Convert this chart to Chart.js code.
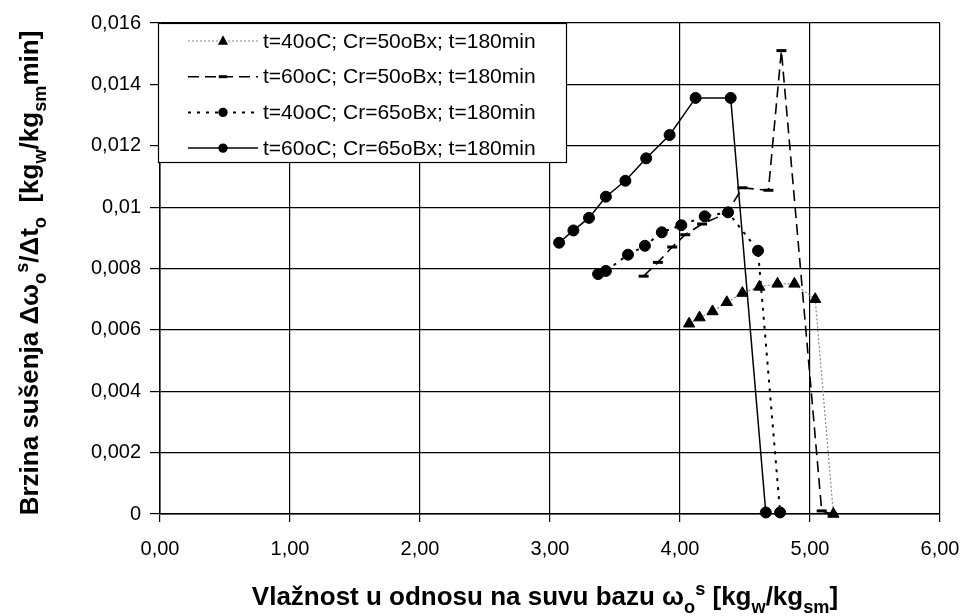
<!DOCTYPE html>
<html>
<head>
<meta charset="utf-8">
<script src="https://cdn.jsdelivr.net/npm/chart.js@4.4.1/dist/chart.umd.min.js"></script>
<style>
  html, body { margin: 0; padding: 0; background: #fff; }
  #wrap { width: 967px; height: 616px; position: relative; }
</style>
</head>
<body>
<div id="wrap"><canvas id="chart" width="967" height="616"></canvas></div>
<script>
// series data
const seriesNames = [
    't=40oC; Cr=50oBx; t=180min',
    't=60oC; Cr=50oBx; t=180min',
    't=40oC; Cr=65oBx; t=180min',
    't=60oC; Cr=65oBx; t=180min'
];

const x1 = [4.07, 4.15, 4.25, 4.36, 4.48, 4.61, 4.75, 4.88, 5.04, 5.18];
const y1 = [0.0062, 0.0064, 0.0066, 0.0069, 0.0072, 0.0074, 0.0075, 0.0075, 0.0070, 0.0];

const x2 = [3.72, 3.83, 3.94, 4.04, 4.17, 4.36, 4.48, 4.68, 4.78, 5.09, 5.17];
const y2 = [0.00775, 0.0082, 0.0087, 0.0091, 0.00945, 0.0098, 0.01063, 0.01055, 0.0151, 0.0001, 0.0];

const x3 = [3.37, 3.43, 3.60, 3.73, 3.86, 4.01, 4.19, 4.37, 4.60, 4.77];
const y3 = [0.00782, 0.00792, 0.00845, 0.00874, 0.00918, 0.00941, 0.0097, 0.00983, 0.00858, 0.00005];

const x4 = [3.07, 3.18, 3.30, 3.43, 3.58, 3.74, 3.92, 4.12, 4.39, 4.66];
const y4 = [0.00884, 0.00924, 0.00965, 0.01034, 0.01086, 0.01159, 0.01235, 0.01356, 0.01356, 0.00005];

const xTicks = ['0,00', '1,00', '2,00', '3,00', '4,00', '5,00', '6,00'];
const yTicks = ['0', '0,002', '0,004', '0,006', '0,008', '0,01', '0,012', '0,014', '0,016'];

const FONT = 'Arial, "Liberation Sans", sans-serif';

const toPoints = (xs, ys) => xs.map((x, i) => ({ x: x, y: ys[i] }));

// line styles, also used for the legend samples
const styles = [
    { color: '#8c8c8c', width: 1.2, dash: [2, 2], marker: 'triangle', r: 6 },
    { color: '#000', width: 1.6, dash: [11, 6], marker: 'dash', r: 5 },
    { color: '#000', width: 2, dash: [3, 6], marker: 'circle', r: 5.5 },
    { color: '#000', width: 1.5, dash: [], marker: 'circle', r: 5.5 }
];

function drawMarker(ctx, type, x, y, r) {
    ctx.save();
    ctx.setLineDash([]);
    ctx.fillStyle = '#000';
    ctx.strokeStyle = '#000';
    ctx.beginPath();
    if (type === 'triangle') {
        ctx.moveTo(x, y - r * 1.15);
        ctx.lineTo(x + r, y + r * 0.75);
        ctx.lineTo(x - r, y + r * 0.75);
        ctx.closePath();
        ctx.fill();
    } else if (type === 'circle') {
        ctx.arc(x, y, r, 0, Math.PI * 2);
        ctx.fill();
    } else {
        ctx.lineWidth = 3;
        ctx.moveTo(x - r, y);
        ctx.lineTo(x + r, y);
        ctx.stroke();
    }
    ctx.restore();
}

// text with sub/superscript runs
function richWidth(ctx, parts, size) {
    let w = 0;
    parts.forEach(p => {
        const s = p.k ? size * 0.7 : size;
        ctx.font = 'bold ' + s + 'px ' + FONT;
        w += ctx.measureText(p.t).width;
    });
    return w;
}
function drawRich(ctx, parts, x, y, size) {
    parts.forEach(p => {
        const s = p.k ? size * 0.7 : size;
        ctx.font = 'bold ' + s + 'px ' + FONT;
        let dy = 0;
        if (p.k === 'sub') dy = size * 0.3;
        if (p.k === 'sup') dy = -size * 0.4;
        ctx.fillText(p.t, x, y + dy);
        x += ctx.measureText(p.t).width;
    });
}

const xTitle = [
    { t: 'Vlažnost u odnosu na suvu bazu ω' }, { t: 'o', k: 'sub' }, { t: 's', k: 'sup' },
    { t: ' [kg' }, { t: 'w', k: 'sub' }, { t: '/kg' }, { t: 'sm', k: 'sub' }, { t: ']' }
];
const yTitle = [
    { t: 'Brzina sušenja Δω' }, { t: 'o', k: 'sub' }, { t: 's', k: 'sup' },
    { t: '/Δt' }, { t: 'o', k: 'sub' }, { t: '  [kg' }, { t: 'w', k: 'sub' },
    { t: '/kg' }, { t: 'sm', k: 'sub' }, { t: 'min]' }
];

const extras = {
    id: 'extras',
    afterDraw(chart) {
        const ctx = chart.ctx;
        const a = chart.chartArea;
        ctx.save();
        ctx.fillStyle = '#000';
        ctx.textBaseline = 'alphabetic';

        // axis titles
        const size = 26;
        let w = richWidth(ctx, xTitle, size);
        drawRich(ctx, xTitle, 545 - w / 2, 605, size);

        ctx.save();
        ctx.translate(38, 273);
        ctx.rotate(-Math.PI / 2);
        w = richWidth(ctx, yTitle, size);
        drawRich(ctx, yTitle, -w / 2, 0, size);
        ctx.restore();

        // legend box in the top left corner of the plot
        const bx = a.left - 2, by = a.top, bw = 408, bh = 139;
        ctx.fillStyle = '#fff';
        ctx.fillRect(bx, by, bw, bh);
        ctx.strokeStyle = '#000';
        ctx.lineWidth = 1.2;
        ctx.strokeRect(bx + 0.5, by + 0.5, bw, bh);

        ctx.font = '21px ' + FONT;
        ctx.textBaseline = 'middle';
        seriesNames.forEach((name, i) => {
            const st = styles[i];
            const ry = by + 18 + i * 35.7;
            ctx.save();
            ctx.strokeStyle = st.color;
            ctx.lineWidth = st.width;
            ctx.setLineDash(st.dash);
            ctx.beginPath();
            ctx.moveTo(a.left + 28, ry);
            ctx.lineTo(a.left + 98, ry);
            ctx.stroke();
            ctx.restore();
            drawMarker(ctx, st.marker, a.left + 63, ry, st.r * 0.85);
            ctx.fillStyle = '#000';
            ctx.fillText(name, a.left + 103, ry + 1);
        });
        ctx.restore();
    }
};

const datasets = [toPoints(x1, y1), toPoints(x2, y2), toPoints(x3, y3), toPoints(x4, y4)].map((pts, i) => {
    const st = styles[i];
    return {
        label: seriesNames[i],
        data: pts,
        borderColor: st.color,
        borderWidth: st.width,
        borderDash: st.dash,
        backgroundColor: '#000',
        pointBackgroundColor: '#000',
        pointBorderColor: '#000',
        pointStyle: st.marker === 'dash' ? 'line' : st.marker,
        pointRadius: st.marker === 'triangle' ? 6.5 : st.r,
        pointBorderWidth: st.marker === 'dash' ? 3 : 1,
        tension: 0,
        clip: false
    };
});

new Chart(document.querySelector('#chart').getContext('2d'), {
    type: 'line',
    data: { datasets: datasets },
    plugins: [extras],
    options: {
        responsive: false,
        animation: false,
        events: [],
        layout: { padding: { left: 0, right: 27, top: 23, bottom: 0 } },
        plugins: { legend: { display: false }, tooltip: { enabled: false } },
        scales: {
            x: {
                type: 'linear',
                min: 0, max: 6,
                afterFit: s => { s.height = 102; s.paddingLeft = 0; s.paddingRight = 0; },
                ticks: {
                    stepSize: 1,
                    color: '#000',
                    font: { family: FONT, size: 20 },
                    padding: 15,
                    maxRotation: 0,
                    callback: (v) => xTicks[Math.round(v)]
                },
                grid: { color: '#000', lineWidth: 1.2, tickLength: 8, drawTicks: true },
                border: { color: '#000', width: 1.5 }
            },
            y: {
                type: 'linear',
                min: 0, max: 0.016,
                afterFit: s => { s.width = 160; s.paddingTop = 0; s.paddingBottom = 0; },
                ticks: {
                    stepSize: 0.002,
                    color: '#000',
                    font: { family: FONT, size: 20 },
                    padding: 9,
                    callback: (v) => yTicks[Math.round(v / 0.002)]
                },
                grid: { color: '#000', lineWidth: 1.2, tickLength: 10, drawTicks: true },
                border: { color: '#000', width: 1.5 }
            }
        }
    }
});
</script>
</body>
</html>
